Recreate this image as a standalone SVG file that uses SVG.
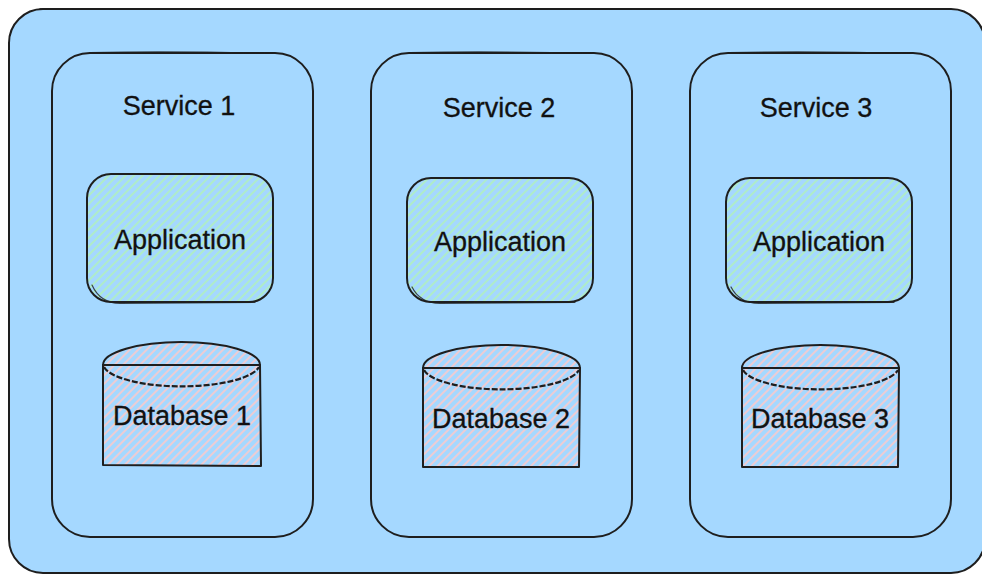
<svg xmlns="http://www.w3.org/2000/svg" width="982" height="574" viewBox="0 0 982 574">
  <style>
    .ink { fill: none; stroke: #1e1e1e; stroke-width: 2; stroke-linecap: round; stroke-linejoin: round; }
    .ink2 { fill: none; stroke: #1e1e1e; stroke-width: 1.2; stroke-linecap: round; opacity: 0.8; }
    .dash { fill: none; stroke: #1e1e1e; stroke-width: 2.2; stroke-dasharray: 6 2; }
    .label { font-family: "Liberation Sans", Arial, Helvetica, sans-serif; font-size: 27px; fill: #111111; stroke: #111111; stroke-width: 0.3; text-anchor: middle; }
    .app { fill: url(#hatchGreen); }
    .db { fill: url(#hatchPink); }
  </style>
  <defs>
    <pattern id="hatchGreen" patternUnits="userSpaceOnUse" width="6" height="6" patternTransform="rotate(45)">
      <rect width="6" height="6" fill="#a5d8ff"/>
      <line x1="3" y1="0" x2="3" y2="6" stroke="#b2f2bb" stroke-width="1.6"/>
    </pattern>
    <pattern id="hatchPink" patternUnits="userSpaceOnUse" width="6" height="6" patternTransform="rotate(45)">
      <rect width="6" height="6" fill="#a5d8ff"/>
      <line x1="3" y1="0" x2="3" y2="6" stroke="#ffc9c9" stroke-width="1.6"/>
    </pattern>
  </defs>

  <rect width="982" height="574" fill="#ffffff"/>

  <!-- outer container -->
  <g id="container">
    <rect x="9" y="9" width="976" height="564" rx="34" fill="#a5d8ff"/>
    <rect x="9" y="9" width="976" height="564" rx="34" class="ink"/>
    <path d="M40,8.5 L950,9.5" class="ink2"/>
  </g>

  <!-- service 1 -->
  <g id="service1">
    <rect x="52" y="53" width="261" height="484" rx="38" class="ink"/>
    <path d="M90,52.5 Q180,51 275,53.5" class="ink2"/>
    <text x="179" y="115" class="label">Service 1</text>
  </g>
  <g id="app1">
    <rect x="87" y="174" width="186" height="128" rx="24" class="app"/>
    <rect x="87" y="174" width="186" height="128" rx="24" class="ink"/>
    <path d="M92,285 Q100,303 120,303.5 L255,302.5" class="ink2"/>
    <text x="180" y="249" class="label">Application</text>
  </g>
  <g id="db1">
    <path d="M103,365 A78.5,23 0 0 1 260,365 L260,465 L103,465 Z" class="db"/>
    <path d="M103,365 A78.5,23 0 0 1 260,365" class="ink"/>
    <path d="M103,365 L260,365 L261,466 L103,465 Z" class="ink"/>
    <path d="M104,367 A78.5,23 0 0 0 259,367" class="dash"/>
    <text x="182" y="425" class="label">Database 1</text>
  </g>

  <!-- service 2 -->
  <g id="service2">
    <rect x="371" y="53" width="261" height="484" rx="38" class="ink"/>
    <path d="M410,52.5 Q500,51 595,53.5" class="ink2"/>
    <text x="499" y="117" class="label">Service 2</text>
  </g>
  <g id="app2">
    <rect x="407" y="178" width="186" height="124" rx="24" class="app"/>
    <rect x="407" y="178" width="186" height="124" rx="24" class="ink"/>
    <path d="M412,287 Q420,303 440,303.5 L575,302.5" class="ink2"/>
    <text x="500" y="251" class="label">Application</text>
  </g>
  <g id="db2">
    <path d="M423,368 A78.5,23 0 0 1 580,368 L580,467 L423,467 Z" class="db"/>
    <path d="M423,368 A78.5,23 0 0 1 580,368" class="ink"/>
    <path d="M423,368 L580,368 L579,467 L423,467 Z" class="ink"/>
    <path d="M424,370 A78.5,23 0 0 0 579,370" class="dash"/>
    <text x="501" y="428" class="label">Database 2</text>
  </g>

  <!-- service 3 -->
  <g id="service3">
    <rect x="690" y="53" width="261" height="484" rx="38" class="ink"/>
    <path d="M729,52.5 Q820,51 914,53.5" class="ink2"/>
    <text x="816" y="117" class="label">Service 3</text>
  </g>
  <g id="app3">
    <rect x="726" y="178" width="186" height="124" rx="24" class="app"/>
    <rect x="726" y="178" width="186" height="124" rx="24" class="ink"/>
    <path d="M731,287 Q739,303 759,303.5 L894,302.5" class="ink2"/>
    <text x="819" y="251" class="label">Application</text>
  </g>
  <g id="db3">
    <path d="M742,368 A78.5,23 0 0 1 899,368 L899,467 L742,467 Z" class="db"/>
    <path d="M742,368 A78.5,23 0 0 1 899,368" class="ink"/>
    <path d="M742,368 L899,368 L898,467 L742,467 Z" class="ink"/>
    <path d="M743,370 A78.5,23 0 0 0 898,370" class="dash"/>
    <text x="820" y="428" class="label">Database 3</text>
  </g>

  <g id="connectors"/>
</svg>
